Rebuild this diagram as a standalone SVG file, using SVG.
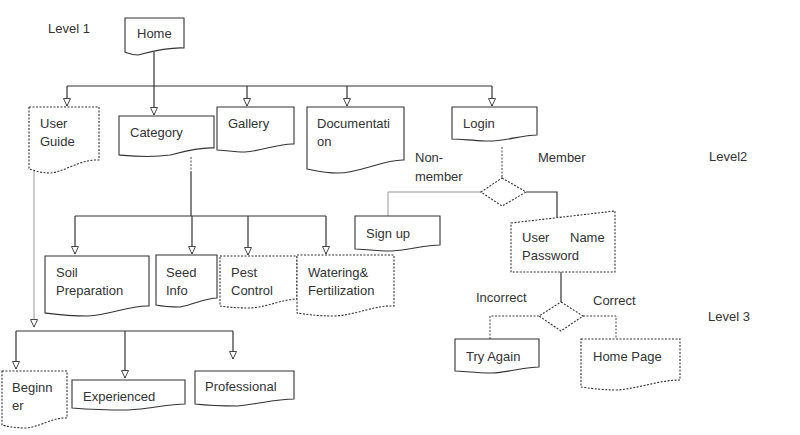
<svg xmlns="http://www.w3.org/2000/svg" width="800" height="435" viewBox="0 0 800 435">
<defs>
<marker id="arr" markerWidth="10" markerHeight="10" refX="8" refY="4" orient="auto" markerUnits="userSpaceOnUse">
<path d="M0.5,0.5 L8,4 L0.5,7.5 Z" fill="#fff" stroke="#333" stroke-width="0.9"/>
</marker>
</defs>
<style>
.shape{fill:#fff;stroke:#333;stroke-width:1.1}
.dot{stroke-dasharray:2 1.5}
.t{font-family:"Liberation Sans",Arial,sans-serif;font-size:13px;fill:#333}
.c{fill:none;stroke:#333;stroke-width:1.2}
.cg{fill:none;stroke:#999;stroke-width:1}
.cd{fill:none;stroke:#444;stroke-width:1;stroke-dasharray:2 1.5}
</style>
<rect width="800" height="435" fill="#fff"/>

<g id="connectors">
<path class="c" d="M154,52 V86"/>
<path class="c" d="M67,86 H492"/>
<path class="c" d="M67,86 V106" marker-end="url(#arr)"/>
<path class="c" d="M154,86 V115" marker-end="url(#arr)"/>
<path class="c" d="M247,86 V106" marker-end="url(#arr)"/>
<path class="c" d="M347,86 V106" marker-end="url(#arr)"/>
<path class="c" d="M492,86 V106" marker-end="url(#arr)"/>
<path class="cd" d="M191,157 V172"/>
<path class="c" d="M191,172 V216"/>
<path class="c" d="M75,216 H326"/>
<path class="c" d="M75,216 V254" marker-end="url(#arr)"/>
<path class="c" d="M192,216 V254" marker-end="url(#arr)"/>
<path class="c" d="M248,216 V255" marker-end="url(#arr)"/>
<path class="c" d="M326,216 V254" marker-end="url(#arr)"/>
<path class="cg" d="M34,171 V327" marker-end="url(#arr)"/>
<path class="c" d="M16,331 H233"/>
<path class="c" d="M16,331 V369" marker-end="url(#arr)"/>
<path class="c" d="M125,331 V378" marker-end="url(#arr)"/>
<path class="c" d="M233,331 V359" marker-end="url(#arr)"/>
<path class="cd" d="M502,147 V178"/>
<path class="cg" d="M481,192 H388 V216"/>
<path class="c" d="M526,192 H557 V217"/>
<path class="c" d="M561,272 V302"/>
<path class="cd" d="M539,316 H490 V339"/>
<path class="cd" d="M583,316 H616 V339"/>
</g>

<g id="level1"><text class="t" x="48" y="33">Level 1</text></g>
<g id="level2"><text class="t" x="709" y="161">Level2</text></g>
<g id="level3"><text class="t" x="708" y="321">Level 3</text></g>

<g id="home">
<path class="shape" d="M125,18 H184 V48 C168,47 150,52 138,55 C132,55 128,53 125,52 Z"/>
<text class="t" x="137" y="38">Home</text>
</g>

<g id="userguide">
<path class="shape dot" d="M29,107 H99 V160 C80,159 62,173 50,173 C40,173 33,170 29,169 Z"/>
<text class="t" x="40" y="128">User</text>
<text class="t" x="40" y="146">Guide</text>
</g>

<g id="category">
<path class="shape" d="M119,116 H214 V148 C200,147 182,152 170,155 C150,158 130,156 119,155 Z"/>
<text class="t" x="130" y="137">Category</text>
</g>

<g id="gallery">
<path class="shape" d="M217,107 H294 V144 C280,143 262,151 245,152 C233,152 223,150 217,150 Z"/>
<text class="t" x="228" y="128">Gallery</text>
</g>

<g id="documentation">
<path class="shape" d="M307,107 H404 V160 C385,159 360,173 338,173 C322,173 313,170 307,169 Z"/>
<text class="t" x="317" y="128">Documentati</text>
<text class="t" x="317" y="146">on</text>
</g>

<g id="login">
<path class="shape" d="M452,107 H537 V135 C520,135 505,142 485,141 C468,140 458,139 452,139 Z"/>
<text class="t" x="463" y="128">Login</text>
</g>

<g id="nonmember-label">
<text class="t" x="415" y="162">Non-</text>
<text class="t" x="415" y="181">member</text>
</g>
<g id="member-label"><text class="t" x="538" y="162">Member</text></g>

<g id="decision1">
<path class="shape dot" d="M502,178 L526,192 L502,206 L481,192 Z"/>
</g>

<g id="signup">
<path class="shape" d="M355,216 H440 V245 C425,245 410,250 392,251 C375,251 363,249 355,249 Z"/>
<text class="t" x="366" y="238">Sign up</text>
</g>

<g id="usernamepassword">
<path class="shape dot" d="M511,223 L615,211 V272 H511 Z"/>
<text class="t" x="522" y="242">User</text>
<text class="t" x="570" y="242">Name</text>
<text class="t" x="522" y="260">Password</text>
</g>

<g id="incorrect-label"><text class="t" x="476" y="302">Incorrect</text></g>
<g id="correct-label"><text class="t" x="593" y="305">Correct</text></g>

<g id="decision2">
<path class="shape dot" d="M561,302 L583,316 L561,331 L539,316 Z"/>
</g>

<g id="tryagain">
<path class="shape" d="M455,339 H539 V367 C525,367 510,372 492,373 C475,373 463,371 455,371 Z"/>
<text class="t" x="466" y="361">Try Again</text>
</g>

<g id="homepage">
<path class="shape dot" d="M581,339 H680 V380 C660,380 640,388 618,390 C600,390 588,388 581,387 Z"/>
<text class="t" x="593" y="361">Home Page</text>
</g>

<g id="soil">
<path class="shape" d="M45,256 H149 V306 C130,305 110,315 88,316 C68,316 53,314 45,313 Z"/>
<text class="t" x="56" y="277">Soil</text>
<text class="t" x="56" y="295">Preparation</text>
</g>

<g id="seed">
<path class="shape" d="M156,255 H217 V298 C205,298 193,305 180,307 C168,307 161,306 156,305 Z"/>
<text class="t" x="166" y="277">Seed</text>
<text class="t" x="166" y="295">Info</text>
</g>

<g id="pest">
<path class="shape dot" d="M220,256 H297 V299 C283,299 268,307 250,308 C236,308 226,307 220,306 Z"/>
<text class="t" x="231" y="277">Pest</text>
<text class="t" x="231" y="295">Control</text>
</g>

<g id="watering">
<path class="shape dot" d="M297,255 H394 V306 C375,305 356,315 335,316 C316,316 304,314 297,313 Z"/>
<text class="t" x="308" y="277">Watering&amp;</text>
<text class="t" x="308" y="295">Fertilization</text>
</g>

<g id="beginner">
<path class="shape dot" d="M2,371 H67 V418 C53,417 40,427 26,428 C14,428 6,426 2,425 Z"/>
<text class="t" x="12" y="392">Beginn</text>
<text class="t" x="12" y="410">er</text>
</g>

<g id="experienced">
<path class="shape" d="M72,380 H185 V404 C168,404 150,409 128,410 C105,410 85,409 72,408 Z"/>
<text class="t" x="83" y="401">Experienced</text>
</g>

<g id="professional">
<path class="shape" d="M195,371 H294 V399 C276,399 258,404 238,406 C218,406 204,405 195,404 Z"/>
<text class="t" x="205" y="391">Professional</text>
</g>
</svg>
